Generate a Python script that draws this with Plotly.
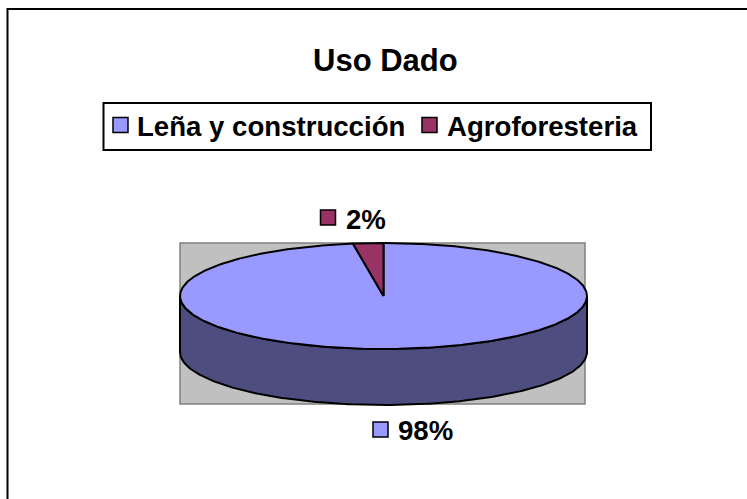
import math
import plotly.graph_objects as go

categories = ["Leña y construcción", "Agroforesteria"]
values = [97.6, 2.4]
top_colors = ["#9999FF", "#993366"]
side_color = "#4D4D80"
title_text = "Uso Dado"

W, H = 747, 499
CX, CY, RX, RY, DEPTH = 383.5, 296, 203.5, 53, 56
FONT = "Liberation Sans"


def ring_point(deg, dy=0):
    a = math.radians(deg)
    return CX + RX * math.sin(a), CY + dy - RY * math.cos(a)


fig = go.Figure()

# Side wall of the pie: front half of the rim, extruded downward
deg_front = [90 + i for i in range(181)]
top_rim = [ring_point(d) for d in deg_front]
bot_rim = [ring_point(d, DEPTH) for d in reversed(deg_front)]
wall = top_rim + bot_rim + [top_rim[0]]
fig.add_trace(go.Scatter(x=[p[0] for p in wall], y=[p[1] for p in wall], mode="lines",
                         fill="toself", fillcolor=side_color,
                         line=dict(color="black", width=2), hoverinfo="skip", showlegend=False))

# Top face slices, clockwise from 12 o'clock
total = sum(values)
start = 0.0
for name, v, col in zip(categories, values, top_colors):
    sweep = 360 * v / total
    n = max(4, int(sweep * 2))
    pts = [ring_point(start + sweep * i / n) for i in range(n + 1)]
    pts = [(CX, CY)] + pts + [(CX, CY)]
    fig.add_trace(go.Scatter(x=[p[0] for p in pts], y=[p[1] for p in pts], mode="lines",
                             fill="toself", fillcolor=col, name=name,
                             line=dict(color="black", width=2), showlegend=False))
    start += sweep

# Legend keys and data-label keys
legend_key_x = [120.5, 429.5]
label_key_x = [380.5, 328]
label_key_y = [429.5, 217.5]
label_x = [425, 366]
label_y = [430.5, 219.5]
fig.add_trace(go.Scatter(x=legend_key_x + label_key_x, y=[125, 125] + label_key_y, mode="markers",
                         marker=dict(symbol="square", size=15, color=top_colors + top_colors,
                                     line=dict(color="black", width=1.5)),
                         hoverinfo="skip", showlegend=False))

shapes = [
    dict(type="rect", xref="x", yref="y", x0=7.5, y0=9, x1=W + 10, y1=H + 10,
         line=dict(color="black", width=2), layer="below"),
    dict(type="rect", xref="x", yref="y", x0=180, y0=243, x1=585, y1=404,
         fillcolor="#C0C0C0", line=dict(color="#808080", width=1.5), layer="below"),
    dict(type="rect", xref="x", yref="y", x0=103.5, y0=103, x1=651, y1=150,
         line=dict(color="black", width=2), layer="below"),
]

annotations = [
    dict(x=385, y=60, text=f"<b>{title_text}</b>", font_size=31),
    dict(x=271, y=126, text=f"<b>{categories[0]}</b>", font_size=27.6),
    dict(x=542, y=126, text=f"<b>{categories[1]}</b>", font_size=27.6),
]
for v, x, y in zip(values, label_x, label_y):
    annotations.append(dict(x=x, y=y, text=f"<b>{round(v / total * 100)}%</b>", font_size=27.6))
for a in annotations:
    a.update(xref="x", yref="y", showarrow=False, xanchor="center", yanchor="middle")
    a["font"] = dict(family=FONT, color="black", size=a.pop("font_size"))

fig.update_layout(
    width=W, height=H, margin=dict(l=0, r=0, t=0, b=0),
    paper_bgcolor="white", plot_bgcolor="white", showlegend=False,
    xaxis=dict(range=[0, W], visible=False, fixedrange=True),
    yaxis=dict(range=[H, 0], visible=False, fixedrange=True),
    shapes=shapes, annotations=annotations,
)
fig.write_html("out.html", config=dict(displayModeBar=False),
               post_script="document.body.style.margin='0';")
